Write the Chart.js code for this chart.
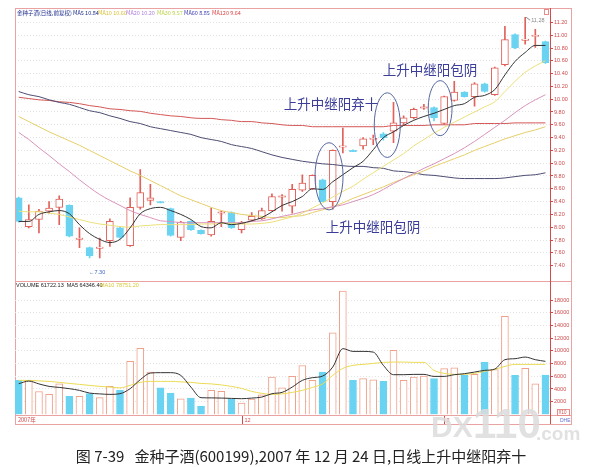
<!DOCTYPE html>
<html>
<head>
<meta charset="utf-8">
<script src="https://cdn.jsdelivr.net/npm/chart.js@4.4.1/dist/chart.umd.min.js"></script>
<style>
  html, body { margin: 0; padding: 0; background: #fff; overflow: hidden; }
  #wrap { position: relative; width: 605px; height: 467px; }
  #wrap canvas { position: absolute; left: 0; top: 0; }
</style>
</head>
<body>
<div id="wrap">
  <canvas id="price-chart" width="605" height="467"></canvas>
  <canvas id="volume-chart" width="605" height="467"></canvas>
</div>
<script>
// trading days shown in the window (index only)
const days = Array.from({ length: 53 }, (_, k) => k + 1);

const openPrices = [8.46, 8.01, 8.12, 8.25, 8.31, 8.34, 7.81, 7.68, 7.67, 7.79,
  7.99, 7.71, 8.31, 8.42, 8.40, 8.29, 7.84, 8.09, 7.95, 7.88,
  8.22, 8.23, 7.96, 8.11, 8.13, 8.26, 8.47, 8.33, 8.58, 8.60,
  8.74, 8.40, 9.25, 9.20, 9.27, 9.37, 9.46, 9.50, 9.63, 9.71,
  9.86, 9.87, 9.62, 9.98, 10.11, 10.04, 10.24, 10.07, 10.54, 11.01,
  10.92, 10.98, 10.90];
const highPrices = [8.47, 8.35, 8.28, 8.40, 8.49, 8.35, 7.99, 7.69, 7.83, 8.13,
  8.00, 8.46, 8.90, 8.67, 8.40, 8.30, 8.09, 8.10, 7.96, 8.30,
  8.25, 8.24, 8.09, 8.23, 8.30, 8.52, 8.51, 8.67, 8.82, 8.82,
  8.75, 9.21, 9.55, 9.21, 9.40, 9.44, 9.48, 9.95, 9.74, 9.86,
  9.92, 9.88, 10.05, 10.28, 10.12, 10.26, 10.25, 10.50, 11.14, 11.02,
  11.28, 11.09, 10.91];
const lowPrices = [8.08, 7.99, 7.91, 8.22, 8.04, 7.85, 7.68, 7.52, 7.52, 7.70,
  7.83, 7.70, 8.28, 8.35, 8.38, 7.86, 7.79, 7.95, 7.89, 7.86,
  8.01, 7.98, 7.91, 8.09, 8.12, 8.25, 8.25, 8.22, 8.56, 8.59,
  8.40, 8.28, 9.16, 9.18, 9.22, 9.29, 9.36, 9.32, 9.60, 9.69,
  9.84, 9.66, 9.61, 9.97, 10.03, 9.89, 10.11, 10.06, 10.52, 10.79,
  10.86, 10.81, 10.56];
const closePrices = [8.09, 8.12, 8.25, 8.30, 8.44, 7.86, 7.83, 7.55, 7.69, 8.09,
  7.84, 8.31, 8.54, 8.46, 8.38, 7.87, 8.08, 7.96, 7.90, 8.09,
  8.24, 7.99, 8.07, 8.17, 8.26, 8.48, 8.49, 8.59, 8.69, 8.81,
  8.40, 9.20, 9.27, 9.18, 9.38, 9.39, 9.40, 9.63, 9.71, 9.84,
  9.88, 9.71, 10.04, 10.11, 10.04, 10.24, 10.12, 10.49, 10.93, 10.80,
  10.94, 11.00, 10.57];

const ma5Prices = [8.09, 8.09, 8.20, 8.24, 8.26, 8.21, 8.04, 7.90, 7.81, 7.76,
  7.81, 7.99, 8.21, 8.29, 8.31, 8.26, 8.20, 8.12, 8.01, 7.99,
  8.07, 8.04, 8.06, 8.10, 8.15, 8.24, 8.34, 8.40, 8.48, 8.60,
  8.59, 8.71, 8.82, 8.93, 9.03, 9.21, 9.40, 9.49, 9.59, 9.67,
  9.73, 9.78, 9.84, 9.90, 9.93, 10.03, 10.06, 10.15, 10.38, 10.59,
  10.73, 10.84, 10.84];
const ma10Prices = [8.25, 8.24, 8.24, 8.22, 8.20, 8.16, 8.12, 8.08, 8.05, 8.03,
  8.01, 8.00, 8.02, 8.03, 8.04, 8.04, 8.04, 8.04, 8.05, 8.05,
  8.06, 8.06, 8.05, 8.05, 8.06, 8.08, 8.12, 8.16, 8.22, 8.30,
  8.38, 8.47, 8.56, 8.64, 8.75, 8.85, 8.95, 9.05, 9.15, 9.27,
  9.37, 9.47, 9.56, 9.64, 9.72, 9.80, 9.88, 9.96, 10.12, 10.28,
  10.42, 10.52, 10.60];
const ma20Prices = [9.48, 9.37, 9.24, 9.12, 8.99, 8.87, 8.74, 8.62, 8.51, 8.42,
  8.34, 8.26, 8.20, 8.15, 8.10, 8.09, 8.07, 8.07, 8.07, 8.07,
  8.07, 8.07, 8.07, 8.09, 8.10, 8.13, 8.17, 8.20, 8.24, 8.27,
  8.29, 8.32, 8.35, 8.40, 8.45, 8.51, 8.59, 8.68, 8.76, 8.84,
  8.92, 8.99, 9.07, 9.15, 9.24, 9.34, 9.45, 9.56, 9.67, 9.79,
  9.90, 9.99, 10.07];
const ma30Prices = [9.73, 9.65, 9.57, 9.49, 9.42, 9.35, 9.28, 9.20, 9.12, 9.04,
  8.96, 8.88, 8.81, 8.73, 8.65, 8.57, 8.49, 8.43, 8.37, 8.31,
  8.26, 8.23, 8.20, 8.18, 8.17, 8.15, 8.15, 8.17, 8.18, 8.23,
  8.27, 8.32, 8.38, 8.45, 8.51, 8.57, 8.63, 8.70, 8.76, 8.82,
  8.88, 8.95, 9.01, 9.07, 9.13, 9.20, 9.26, 9.32, 9.38, 9.43,
  9.48, 9.52, 9.57];
const ma60Prices = [10.12, 10.07, 10.04, 9.99, 9.95, 9.92, 9.87, 9.82, 9.79, 9.74,
  9.70, 9.65, 9.62, 9.57, 9.54, 9.51, 9.48, 9.45, 9.40, 9.37,
  9.34, 9.29, 9.26, 9.23, 9.18, 9.13, 9.09, 9.06, 9.03, 9.01,
  8.99, 8.98, 8.96, 8.95, 8.95, 8.93, 8.92, 8.88, 8.87, 8.85,
  8.82, 8.81, 8.79, 8.77, 8.76, 8.76, 8.76, 8.76, 8.77, 8.79,
  8.81, 8.82, 8.85];
const ma120Prices = [10.03, 10.01, 9.99, 9.98, 9.96, 9.95, 9.93, 9.90, 9.88, 9.85,
  9.84, 9.82, 9.81, 9.78, 9.76, 9.74, 9.73, 9.71, 9.70, 9.70,
  9.68, 9.67, 9.65, 9.65, 9.63, 9.62, 9.60, 9.59, 9.59, 9.57,
  9.57, 9.57, 9.57, 9.57, 9.57, 9.57, 9.57, 9.59, 9.59, 9.59,
  9.59, 9.60, 9.60, 9.60, 9.60, 9.62, 9.62, 9.62, 9.62, 9.63,
  9.63, 9.63, 9.63];

const volumes = [5350, 5350, 3600, 3150, 4830, 2830, 2830, 3260, 2630, 4400,
  3780, 8350, 10400, 6660, 4200, 3350, 2470, 2570, 1300, 3780,
  3620, 2410, 1780, 2410, 3100, 5870, 4200, 6000, 7700, 5350,
  6660, 12860, 19400, 5350, 5620, 5460, 5200, 10080, 5350, 5870,
  6030, 5620, 7200, 7350, 6140, 6300, 8240, 7040, 15430, 6140,
  7240, 4830, 6190];
const volMa5 = [4835, 5245, 4800, 4410, 4250, 4050, 3780, 3355, 3230, 3150,
  3260, 4050, 5465, 6505, 6570, 6570, 6140, 4300, 2630, 2600,
  2570, 2520, 2470, 2570, 2725, 3260, 3465, 4300, 5355, 5780,
  6030, 7450, 10350, 9920, 9920, 9810, 7720, 6250, 6250, 6300,
  6300, 5985, 5985, 6250, 6410, 6660, 6930, 7135, 8615, 8770,
  9025, 8615, 8350];
const volMa10 = [5355, 5355, 5275, 5200, 5040, 4880, 4725, 4570, 4410, 4300,
  4175, 4570, 5040, 5200, 5200, 5200, 5120, 5040, 4880, 4800,
  4645, 4410, 4095, 3620, 3310, 3150, 3230, 3465, 3780, 4250,
  4800, 6140, 7245, 7720, 7875, 8030, 8190, 8240, 8240, 8190,
  8190, 6930, 6460, 6300, 6300, 6460, 6770, 7090, 7560, 7875,
  7875, 7875, 7875];

const priceTicks = [7.4, 7.6, 7.8, 8.0, 8.2, 8.4, 8.6, 8.8, 9.0, 9.2, 9.4,
  9.6, 9.8, 10.0, 10.2, 10.4, 10.6, 10.8, 11.0, 11.2];
const volumeTicks = [2000, 4000, 6000, 8000, 10000, 12000, 14000, 16000, 18000];

const upColor = "#e0625a";
const downColor = "#6ad3f1";
const volUpColor = "#efa18a";
const axisRed = "#d24a4a";
const isUp = closePrices.map((c, k) => c >= openPrices[k]);

function lineSet(values, color, width) {
  return {
    type: "line",
    data: values.map((v, k) => ({ x: days[k], y: v })),
    borderColor: color,
    borderWidth: width,
    pointRadius: 0,
    cubicInterpolationMode: "monotone",
    order: 0,
  };
}

function rightAxis(min, max, ticks, fmt) {
  return {
    position: "right",
    min: min,
    max: max,
    afterBuildTicks: (s) => {
      s.ticks = ticks.map((v) => ({ value: v }));
    },
    afterFit: (s) => {
      s.width = 21;
      s.paddingTop = 0;
      s.paddingBottom = 0;
    },
    ticks: {
      font: { size: 5.5, family: "Liberation Sans" },
      color: axisRed,
      padding: 1,
      autoSkip: false,
      callback: fmt,
    },
    grid: { color: "#e3e3e3", tickColor: axisRed, tickLength: 3, tickBorderDash: [] },
    border: { display: true, color: axisRed, dash: [1, 2] },
  };
}

const xAxis = { type: "linear", min: 0.635, max: 53.45, offset: false, display: false };

// pattern marks: [fromDay, toDay, lowPrice, highPrice]
const circled = [
  [30.25, 33.02, 8.27, 9.32],
  [36.1, 38.67, 9.09, 10.10],
  [41.43, 43.78, 9.43, 10.29],
];

const monthMarks = [
  { day: 23, label: "12" },
  { day: 43, label: "2" },
];

function txt(ctx, s, x, y, font, color, align) {
  ctx.font = font;
  ctx.fillStyle = color;
  ctx.textAlign = align || "left";
  ctx.textBaseline = "middle";
  ctx.fillText(s, x, y);
}

const priceDecor = {
  id: "priceDecor",
  afterDraw(chart) {
    const { ctx } = chart;
    const xs = chart.scales.x;
    const ys = chart.scales.y;
    ctx.save();

    // panel frame
    ctx.strokeStyle = "#eaa3a3";
    ctx.lineWidth = 1;
    ctx.strokeRect(15.5, 8.5, 556, 416);
    ctx.beginPath();
    ctx.moveTo(15, 281.5);
    ctx.lineTo(571, 281.5);
    ctx.moveTo(15, 415.5);
    ctx.lineTo(571, 415.5);
    ctx.stroke();
    ctx.strokeStyle = axisRed;
    ctx.beginPath();
    ctx.moveTo(550.5, 8);
    ctx.lineTo(550.5, 424);
    ctx.stroke();
    ctx.strokeStyle = "#e78a8a";
    ctx.strokeRect(544.5, 9.5, 4, 5);

    // date strip
    txt(ctx, "2007年", 18, 420, "5.5px 'Noto Sans CJK SC'", axisRed);
    monthMarks.forEach((m) => {
      const px = Math.round(xs.getPixelForValue(m.day)) + 0.5;
      ctx.strokeStyle = axisRed;
      ctx.beginPath();
      ctx.moveTo(px, 416);
      ctx.lineTo(px, 424);
      ctx.stroke();
      txt(ctx, m.label, px + 2, 420, "5.5px 'Liberation Sans'", axisRed);
    });
    ctx.strokeStyle = "#e78a8a";
    ctx.strokeRect(557.5, 409.5, 12, 6);
    txt(ctx, "X10", 558.5, 412.8, "4.5px 'Liberation Sans'", axisRed);
    txt(ctx, "DHE", 560, 421, "5px 'Liberation Sans'", "#6070d0");

    // legends
    const f = "5.5px 'Noto Sans CJK SC'";
    txt(ctx, "金种子酒(日线,前复权)", 17, 12.8, f, "#1c2c8c");
    txt(ctx, "MA5 10.84", 73, 12.8, f, "#1c2c8c");
    txt(ctx, "MA10 10.60", 98, 12.8, f, "#d9c23a");
    txt(ctx, "MA20 10.20", 126, 12.8, f, "#b07ee0");
    txt(ctx, "MA30 9.57", 157, 12.8, f, "#bcd24a");
    txt(ctx, "MA60 8.85", 184, 12.8, f, "#3a3ab4");
    txt(ctx, "MA120 9.64", 212, 12.8, f, "#e04444");
    txt(ctx, "VOLUME 61722.13  MA5 64346.40", 16, 285.5, "5.5px 'Liberation Sans'", "#222");
    txt(ctx, "MA10 78751.20", 100, 285.5, "5.5px 'Liberation Sans'", "#d9c83a");

    // high / low markers
    const hx = xs.getPixelForValue(51);
    const hy = ys.getPixelForValue(11.28);
    ctx.strokeStyle = "#888";
    ctx.beginPath();
    ctx.moveTo(hx + 1, hy);
    ctx.lineTo(hx + 5, hy + 3);
    ctx.stroke();
    txt(ctx, "11.28", hx + 6, hy + 3.5, "5.5px 'Liberation Sans'", "#888");
    txt(ctx, "←7.30", 89, 272, "5.5px 'Liberation Sans'", "#3a66c4");

    // circled patterns
    ctx.strokeStyle = "#56679f";
    ctx.lineWidth = 1;
    circled.forEach(([d0, d1, p0, p1]) => {
      const x0 = xs.getPixelForValue(d0);
      const x1 = xs.getPixelForValue(d1);
      const y0 = ys.getPixelForValue(p1);
      const y1 = ys.getPixelForValue(p0);
      ctx.beginPath();
      ctx.ellipse((x0 + x1) / 2, (y0 + y1) / 2, (x1 - x0) / 2, (y1 - y0) / 2, 0, 0, Math.PI * 2);
      ctx.stroke();
    });

    const af = "13.5px 'Noto Sans CJK SC'";
    const ac = "#3b3d98";
    txt(ctx, "上升中继阳包阴", 430, 70, af, ac, "center");
    txt(ctx, "上升中继阳弃十", 331, 104, af, ac, "center");
    txt(ctx, "上升中继阳包阴", 373, 227, af, ac, "center");

    // caption
    txt(ctx, "图 7-39   金种子酒(600199),2007 年 12 月 24 日,日线上升中继阳弃十",
      301, 456, "15px 'Noto Sans CJK SC'", "#222", "center");
    ctx.restore();
  },
};

const watermark = {
  id: "watermark",
  afterDraw(chart) {
    const { ctx } = chart;
    ctx.save();
    ctx.globalAlpha = 0.85;
    ctx.fillStyle = "#dcdcdc";
    ctx.textBaseline = "alphabetic";
    ctx.font = "bold 30px 'Liberation Sans'";
    ctx.fillText("DX", 431, 437);
    ctx.font = "bold 42px 'Liberation Sans'";
    ctx.fillText("110", 473, 438);
    ctx.font = "bold 19px 'Liberation Sans'";
    ctx.fillText(".com", 536, 440);
    ctx.restore();
  },
};

new Chart("price-chart", {
  type: "bar",
  data: {
    datasets: [
      lineSet(ma5Prices, "#333333", 1),
      lineSet(ma10Prices, "#ece07a", 1),
      lineSet(ma20Prices, "#d993bb", 1),
      lineSet(ma30Prices, "#e6cf6a", 1),
      lineSet(ma60Prices, "#4c4c72", 1),
      lineSet(ma120Prices, "#d45656", 1),
      {
        data: days.map((d, k) => ({ x: d, y: [openPrices[k], closePrices[k]] })),
        backgroundColor: isUp.map((u) => (u ? "#ffffff" : downColor)),
        borderColor: isUp.map((u) => (u ? upColor : downColor)),
        borderWidth: 1,
        borderSkipped: false,
        barThickness: 7,
        grouped: false,
        order: 2,
      },
      {
        data: days.map((d, k) => ({ x: d, y: [lowPrices[k], highPrices[k]] })),
        backgroundColor: isUp.map((u) => (u ? upColor : downColor)),
        barThickness: 1,
        grouped: false,
        order: 3,
      },
    ],
  },
  options: {
    responsive: false,
    animation: false,
    layout: { padding: { left: 15, right: 34, top: 16, bottom: 188.6 } },
    plugins: { legend: { display: false }, tooltip: { enabled: false } },
    scales: {
      x: xAxis,
      y: rightAxis(7.2, 11.3, priceTicks, (v) => v.toFixed(2)),
    },
  },
  plugins: [priceDecor],
});

new Chart("volume-chart", {
  type: "bar",
  data: {
    datasets: [
      lineSet(volMa5, "#333333", 1),
      lineSet(volMa10, "#ebdb55", 1),
      {
        data: days.map((d, k) => ({ x: d, y: volumes[k] })),
        backgroundColor: isUp.map((u) => (u ? "#ffffff" : downColor)),
        borderColor: isUp.map((u) => (u ? volUpColor : downColor)),
        borderWidth: 1,
        barThickness: 7,
        grouped: false,
        order: 2,
      },
    ],
  },
  options: {
    responsive: false,
    animation: false,
    layout: { padding: { left: 15, right: 34, top: 281, bottom: 52.6 } },
    plugins: { legend: { display: false }, tooltip: { enabled: false } },
    scales: {
      x: xAxis,
      y: rightAxis(0, 21000, volumeTicks, (v) => String(v)),
    },
  },
  plugins: [watermark],
});
</script>
</body>
</html>
